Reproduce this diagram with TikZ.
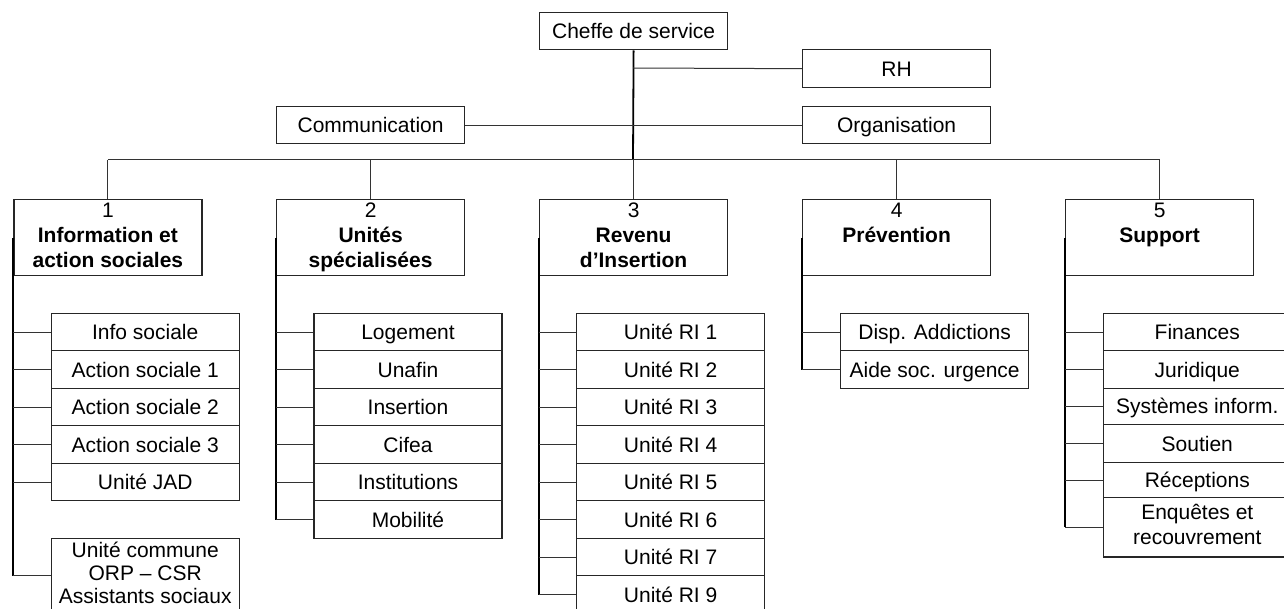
\documentclass[tikz,border=0pt]{standalone}
\usepackage{fontspec}
\setmainfont{Liberation Sans}
\begin{document}
\begin{tikzpicture}[x=0.5pt,y=-0.5pt,
  every node/.style={font=\fontsize{10.5}{12.5}\selectfont},
  box/.style={draw=black!85, line width=0.6pt, inner sep=0pt, minimum width=94pt, align=center, anchor=north west},
  onebox/.style={box, text height=7.5pt, text depth=0pt},
  rowbox/.style={onebox, minimum height=18.75pt},
  topbox/.style={onebox, minimum height=18.8pt},
  lvlbox/.style={box, minimum height=37.85pt},
  conn/.style={draw=black!80, line width=0.5pt},
  trunk/.style={draw=black, line width=0.9pt},
]
\useasboundingbox (0,0) rectangle (1284,609);
\clip (0,0) rectangle (1284,609);

% top level
\node[topbox] (chef) at (539,11.7) {Cheffe de service};
\node[topbox] (rh) at (802,49.3) {RH};
\node[topbox] (com) at (276,105.7) {Communication};
\node[topbox] (org) at (802,105.7) {Organisation};

% departments
\node[lvlbox] (d1) at (13.3,199.3) {\strut 1\\\textbf{Information et}\\\textbf{action sociales}\strut};
\node[lvlbox] (d2) at (276,199.3) {\strut 2\\\textbf{Unités}\\\textbf{spécialisées}\strut};
\node[lvlbox] (d3) at (539,199.3) {\strut 3\\\textbf{Revenu}\\\textbf{d’Insertion}\strut};
\node[lvlbox] (d4) at (802,199.3) {\strut 4\\\textbf{Prévention}\\\strut};
\node[lvlbox] (d5) at (1065,199.3) {\strut 5\\\textbf{Support}\\\strut};

% hub connectors
\coordinate (hub) at (633,160);
\coordinate (rhj) at (633,68);
\draw[trunk] (chef.south) -- (hub);
\draw[conn] (rhj) -- (rh.west);
\draw[conn] (com.east) -- (org.west);
\draw[conn] (d1.north |- hub) -- (d5.north |- hub);
\foreach \i in {1,...,5} \draw[conn] (d\i.north |- hub) -- (d\i.north);

% column 1
\foreach \t [count=\i] in {Info sociale, Action sociale 1, Action sociale 2, Action sociale 3, Unité JAD}
  \node[rowbox] (a\i) at (50.6,{275.2+37.5*\i}) {\t};
\node[box, minimum height=37.3pt, font=\fontsize{10.5}{11.6}\selectfont] (a6) at (50.6,537.7) {\strut Unité commune\\ORP – CSR\\Assistants sociaux\strut};
\draw[trunk] (d1.west) -- (d1.west |- a6.west);
\foreach \i in {1,...,6} \draw[conn] (d1.west |- a\i.west) -- (a\i.west);

% column 2
\foreach \t [count=\i] in {Logement, Unafin, Insertion, Cifea, Institutions, Mobilité}
  \node[rowbox] (b\i) at (313.4,{275.2+37.5*\i}) {\t};
\draw[trunk] (d2.west) -- (d2.west |- b6.west);
\foreach \i in {1,...,6} \draw[conn] (d2.west |- b\i.west) -- (b\i.west);

% column 3
\foreach \t [count=\i] in {Unité RI 1, Unité RI 2, Unité RI 3, Unité RI 4, Unité RI 5, Unité RI 6, Unité RI 7, Unité RI 9}
  \node[rowbox] (c\i) at (576,{275.2+37.5*\i}) {\t};
\draw[trunk] (d3.west) -- (d3.west |- c8.west);
\foreach \i in {1,...,8} \draw[conn] (d3.west |- c\i.west) -- (c\i.west);

% column 4
\node[rowbox] (e1) at (840,312.7) {Disp. Addictions};
\node[rowbox] (e2) at (840,350.2) {Aide soc. urgence};
\draw[trunk] (d4.west) -- (d4.west |- e2.west);
\foreach \i in {1,2} \draw[conn] (d4.west |- e\i.west) -- (e\i.west);

% column 5
\node[rowbox] (f1) at (1102.7,312.7) {Finances};
\node[rowbox] (f2) at (1102.7,350.2) {Juridique};
\node[onebox, minimum height=18pt] (f3) at (1102.7,387.7) {Systèmes inform.};
\node[onebox, minimum height=19.2pt] (f4) at (1102.7,423.7) {Soutien};
\node[onebox, minimum height=17.5pt] (f5) at (1102.7,462.1) {Réceptions};
\node[box, minimum height=29.65pt] (f6) at (1102.7,497.1) {\strut Enquêtes et\\recouvrement\strut};
\draw[trunk] (d5.west) -- (d5.west |- f6.west);
\foreach \i in {1,...,6} \draw[conn] (d5.west |- f\i.west) -- (f\i.west);
\end{tikzpicture}
\end{document}
